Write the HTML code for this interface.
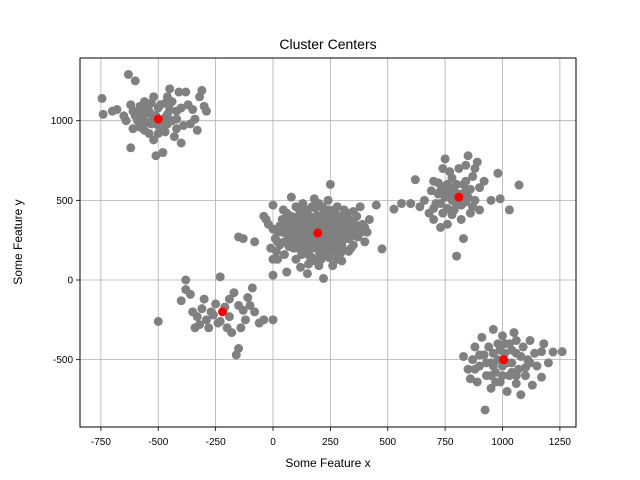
<!DOCTYPE html>
<html><head><meta charset="utf-8"><style>
body{margin:0;background:#fff;}
svg{display:block;font-family:"Liberation Sans","DejaVu Sans",sans-serif;}
</style></head><body>
<svg id="chart" width="640" height="480" viewBox="0 0 640 480">
<rect width="640" height="480" fill="#fff"/>
<text x="328" y="49" text-anchor="middle" font-size="14">Cluster Centers</text>
<g id="grid"></g><g id="pts"></g><g id="ctr"></g>
<rect x="80" y="58" width="496" height="369" fill="none" stroke="#000" stroke-width="1"/>
<g id="ticks"></g>
<text x="328" y="467" text-anchor="middle" font-size="12">Some Feature x</text>
<text transform="translate(22,242) rotate(-90)" text-anchor="middle" font-size="12">Some Feature y</text>
</svg>
<script>
const xTicks=[-750,-500,-250,0,250,500,750,1000,1250];
const yTicks=[-500,0,500,1000];
const centersX=[-500,195,810,-220,1005];
const centersY=[1010,295,520,-200,-500];
const cluster1=[[-745,1140],[-740,1040],[-700,1060],[-680,1070],[-650,1030],[-630,1290],[-600,1250],[-620,1100],[-610,950],[-620,830],[-590,1000],[-580,1060],[-560,1120],[-550,990],[-540,920],[-530,1040],[-520,880],[-510,780],[-500,1080],[-490,960],[-480,800],[-470,1020],[-460,1150],[-450,1200],[-440,1000],[-430,900],[-420,1060],[-410,1180],[-400,860],[-390,970],[-380,1180],[-370,1100],[-350,1070],[-330,940],[-320,1150],[-310,1190],[-300,1090],[-290,1060],[-340,1010],[-560,1040],[-640,1000],[-580,960],[-470,1110],[-530,980],[-450,1070],[-520,1150],[-480,1000],[-600,1030],[-420,950],[-360,980],[-540,1060],[-500,920],[-460,1040],[-570,1010],[-550,1080],[-510,1030],[-490,1100],[-470,930],[-440,1120],[-530,1110],[-580,1090],[-610,1060],[-500,970],[-460,980],[-420,1010],[-400,1080],[-560,940],[-520,1000]];
const cluster2=[[-40,400],[-30,380],[-20,350],[-10,200],[0,470],[0,130],[10,260],[20,300],[30,220],[40,380],[50,160],[60,420],[60,50],[70,280],[80,520],[80,350],[90,200],[100,460],[100,300],[100,130],[110,400],[120,250],[120,80],[130,340],[130,480],[140,180],[140,420],[150,300],[150,40],[160,370],[160,230],[170,460],[170,140],[180,320],[180,510],[190,260],[190,400],[200,180],[200,90],[200,480],[210,350],[210,230],[220,420],[220,10],[230,280],[230,150],[240,500],[240,370],[250,320],[250,200],[250,600],[260,420],[260,90],[270,250],[270,350],[280,460],[280,170],[290,300],[290,390],[300,220],[300,120],[310,440],[310,330],[320,260],[330,180],[330,380],[340,300],[350,430],[350,220],[360,330],[370,270],[380,460],[390,350],[400,240],[410,300],[420,380],[450,470],[475,195],[140,280],[160,300],[180,240],[220,320],[240,260],[120,360],[260,280],[200,400],[80,250],[300,360],[170,200],[230,380],[110,200],[280,220],[150,440],[210,130],[190,350],[260,360],[40,300],[330,260],[60,340],[90,380],[130,230],[270,180],[310,280],[200,270],[240,440],[160,150],[350,370],[70,210],[110,270],[225,210],[185,450],[275,410],[145,360],[295,170],[15,180],[45,440],[365,400],[50,240],[70,330],[90,300],[110,320],[130,290],[150,250],[170,330],[190,210],[210,290],[230,330],[250,250],[270,300],[290,250],[310,390],[330,330],[350,280],[370,340],[120,420],[140,330],[160,400],[180,380],[200,220],[220,250],[240,310],[260,230],[280,340],[300,270],[320,310],[100,240],[80,400],[60,290],[30,340],[250,390],[215,460],[175,270],[195,330],[235,180],[155,200],[125,160],[285,400],[305,190],[345,340],[385,300],[95,340],[65,380],[115,440],[135,390],[265,440],[325,420],[205,150],[245,140],[155,100],[185,120],[340,200],[280,130],[20,240],[0,320],[400,330]];
const cluster3=[[527,445],[560,480],[600,480],[620,630],[640,460],[660,500],[680,420],[690,560],[700,620],[700,380],[710,480],[720,540],[730,330],[740,700],[750,760],[750,590],[760,450],[760,350],[770,520],[780,640],[780,410],[790,560],[800,150],[800,470],[810,700],[820,380],[830,600],[830,260],[840,720],[840,490],[850,780],[860,570],[860,420],[870,650],[880,500],[890,740],[900,580],[900,440],[920,620],[950,500],[980,670],[990,510],[1030,440],[1072,596],[730,480],[760,600],[800,540],[840,560],[700,450],[770,680],[820,470],[720,610],[880,700],[740,420],[750,520],[780,500],[800,600],[820,540],[850,520],[790,440],[760,560],[810,490],[840,620],[730,560],[870,460],[780,580]];
const cluster4=[[-500,-260],[-400,-130],[-380,0],[-380,-60],[-360,-90],[-350,-200],[-340,-300],[-320,-280],[-310,-180],[-300,-120],[-290,-250],[-280,-300],[-260,-220],[-250,-150],[-240,-270],[-230,20],[-210,-170],[-200,-300],[-190,-230],[-180,-330],[-170,-80],[-160,-470],[-150,-430],[-140,-300],[-130,-190],[-120,-250],[-110,-110],[-100,-160],[-90,-50],[-80,-200],[-60,-270],[-40,-250],[0,-250],[-270,-200],[-230,-260],[-150,-160],[-330,-230],[-190,-120],[-150,270],[-130,260],[-80,240],[0,30],[20,130]];
const cluster5=[[830,-480],[850,-560],[860,-620],[870,-500],[880,-420],[890,-640],[900,-540],[910,-360],[920,-470],[924,-816],[930,-600],[940,-420],[950,-680],[950,-520],[960,-310],[960,-460],[970,-580],[980,-400],[990,-640],[1000,-540],[1000,-350],[1010,-460],[1020,-700],[1030,-600],[1030,-400],[1040,-520],[1050,-330],[1060,-650],[1060,-460],[1070,-560],[1080,-720],[1090,-420],[1100,-600],[1110,-500],[1120,-380],[1130,-660],[1150,-540],[1170,-450],[1170,-610],[1200,-520],[1220,-452],[1260,-450],[900,-470],[980,-500],[1040,-580],[1120,-520],[950,-600],[1060,-380],[880,-560],[1180,-400],[960,-540],[1020,-520],[1000,-600],[1080,-480],[1040,-440],[930,-520],[1100,-550],[990,-440],[1060,-600],[1140,-460],[970,-640],[1010,-400]];
const X=v=>273+v*0.2295, Y=v=>280-v*0.1593;
const NS='http://www.w3.org/2000/svg';
function mk(tag,attrs,parent){const e=document.createElementNS(NS,tag);for(const k in attrs)e.setAttribute(k,attrs[k]);parent.appendChild(e);return e;}
const grid=document.getElementById('grid'),ticks=document.getElementById('ticks');
xTicks.forEach(t=>{const x=X(t);
 const g=mk('line',{x1:x,x2:x,y1:58,y2:427,stroke:'#b0b0b0','stroke-width':0.8},grid);
 
 
 const tk=mk('line',{x1:x,x2:x,y1:427,y2:431,stroke:'#000','stroke-width':0.8},ticks);
 
 
 const l=mk('text',{x:x,y:445,'text-anchor':'middle','font-size':10},ticks);l.textContent=t;
 
 
});
yTicks.forEach(t=>{const y=Y(t);
 const g=mk('line',{x1:80,x2:576,y1:y,y2:y,stroke:'#b0b0b0','stroke-width':0.8},grid);
 
 
 const tk=mk('line',{x1:76,x2:80,y1:y,y2:y,stroke:'#000','stroke-width':0.8},ticks);
 
 
 const l=mk('text',{x:73,y:y+3.5,'text-anchor':'end','font-size':10},ticks);l.textContent=t;
 
 
});
const pts=document.getElementById('pts');
[cluster1,cluster2,cluster3,cluster4,cluster5].forEach(c=>c.forEach(p=>{
 const e=mk('circle',{cx:X(p[0]),cy:Y(p[1]),r:4.5,fill:'#808080'},pts);
 
 
}));
const ctr=document.getElementById('ctr');
centersX.forEach((cx,i)=>{
 const e=mk('circle',{cx:X(cx),cy:Y(centersY[i]),r:4.5,fill:'#ff0000'},ctr);
 
 
});
</script>
</body></html>
